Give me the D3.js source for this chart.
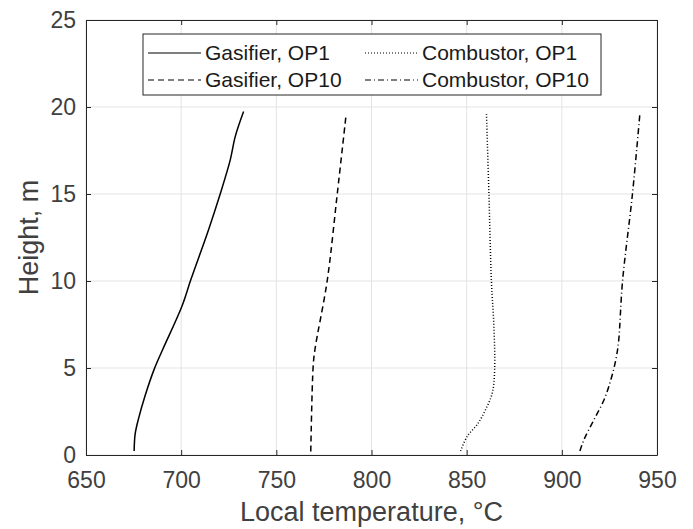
<!DOCTYPE html>
<html>
<head>
<meta charset="utf-8">
<script src="https://cdn.jsdelivr.net/npm/d3@7"></script>
<style>
  body { margin: 0; background: #fff; }
  svg { font-family: "Liberation Sans", Arial, sans-serif; }
</style>
</head>
<body>
<div id="chart"></div>
<script>
// temperature profiles along the riser height
const heightsG1 = [0.23, 1.19, 2.05, 3.39, 4.92, 6.06, 8.55, 10.08, 12.95, 15.0, 16.96, 18.3, 19.74];
const gasifierOP1 = [675.3, 675.8, 677.5, 681, 685.8, 690.3, 700.4, 705.1, 714.4, 720.5, 725.8, 728.4, 732.8];

const heightsG10 = [0.2, 5, 6, 10, 15, 19.6];
const gasifierOP10 = [768.1, 769.3, 770.2, 776.7, 782, 786.7];

const heightsC1 = [0.23, 1.09, 1.76, 2.62, 3.58, 4.92, 7.4, 10, 15, 19.6];
const combustorOP1 = [846.8, 850.4, 855.6, 860, 863.5, 864.7, 864.3, 863, 861.7, 860.4];

const heightsC10 = [0.23, 0.9, 2.05, 3.2, 4.34, 5.49, 6.5, 10, 15, 19.6];
const combustorOP10 = [909.5, 911.7, 917, 922.3, 925.8, 928.4, 929.8, 931.9, 937.1, 941];

const xTicks = [650, 700, 750, 800, 850, 900, 950];
const yTicks = [0, 5, 10, 15, 20, 25];

const series = [
    { name: "Gasifier, OP1", h: heightsG1, t: gasifierOP1, dash: null },
    { name: "Gasifier, OP10", h: heightsG10, t: gasifierOP10, dash: "6,4" },
    { name: "Combustor, OP1", h: heightsC1, t: combustorOP1, dash: "1,2" },
    { name: "Combustor, OP10", h: heightsC10, t: combustorOP10, dash: "6,3,1,3" }
];

const width = 693, height = 529;
const margin = { top: 20, right: 36, bottom: 74, left: 86 };
const innerW = width - margin.left - margin.right;
const innerH = height - margin.top - margin.bottom;

const svg = d3.select("#chart").append("svg")
    .attr("width", width)
    .attr("height", height);

const g = svg.append("g")
    .attr("transform", `translate(${margin.left},${margin.top})`);

const x = d3.scaleLinear().domain([650, 950]).range([0, innerW]);
const y = d3.scaleLinear().domain([0, 25]).range([innerH, 0]);

const axisColor = "#262626";
const textColor = "#404040";

// grid
g.append("g")
    .selectAll("line")
    .data(xTicks)
    .enter().append("line")
    .attr("x1", d => x(d)).attr("x2", d => x(d))
    .attr("y1", 0).attr("y2", innerH)
    .attr("stroke", "#e3e3e3").attr("stroke-width", 1);
g.append("g")
    .selectAll("line")
    .data(yTicks)
    .enter().append("line")
    .attr("x1", 0).attr("x2", innerW)
    .attr("y1", d => y(d)).attr("y2", d => y(d))
    .attr("stroke", "#e3e3e3").attr("stroke-width", 1);

// lines
const line = d3.line()
    .x(d => x(d[1]))
    .y(d => y(d[0]))
    .curve(d3.curveCatmullRom.alpha(0.5));

series.forEach(s => {
    g.append("path")
        .datum(s.h.map((h, i) => [h, s.t[i]]))
        .attr("fill", "none")
        .attr("stroke", "#000")
        .attr("stroke-width", 1.5)
        .attr("stroke-dasharray", s.dash)
        .attr("d", line);
});

// axes (ticks inside, box on)
function styleAxis(sel) {
    sel.select(".domain").attr("stroke", axisColor);
    sel.selectAll(".tick line").attr("stroke", axisColor);
    sel.selectAll(".tick text").attr("fill", textColor)
        .style("font-size", "23px");
}

const xAxis = g.append("g")
    .attr("transform", `translate(0,${innerH})`)
    .call(d3.axisBottom(x).tickValues(xTicks).tickSizeInner(-5).tickSizeOuter(0).tickPadding(17));
styleAxis(xAxis);

const yAxis = g.append("g")
    .call(d3.axisLeft(y).tickValues(yTicks).tickSizeInner(-5).tickSizeOuter(0).tickPadding(10));
styleAxis(yAxis);

const xTop = g.append("g")
    .call(d3.axisTop(x).tickValues(xTicks).tickSizeInner(-5).tickSizeOuter(0).tickFormat(""));
styleAxis(xTop);

const yRight = g.append("g")
    .attr("transform", `translate(${innerW},0)`)
    .call(d3.axisRight(y).tickValues(yTicks).tickSizeInner(-5).tickSizeOuter(0).tickFormat(""));
styleAxis(yRight);

// axis titles
svg.append("text")
    .attr("x", margin.left + innerW / 2)
    .attr("y", 521)
    .attr("text-anchor", "middle")
    .attr("fill", textColor)
    .style("font-size", "27px")
    .text("Local temperature, °C");

svg.append("text")
    .attr("transform", `translate(38,${margin.top + innerH / 2}) rotate(-90)`)
    .attr("text-anchor", "middle")
    .attr("fill", textColor)
    .style("font-size", "27px")
    .text("Height, m");

// legend
const legend = svg.append("g").attr("transform", "translate(143,34)");
legend.append("rect")
    .attr("width", 458).attr("height", 61)
    .attr("fill", "#fff")
    .attr("stroke", axisColor).attr("stroke-width", 1);

const legendPos = [[5, 19], [5, 46], [222, 19], [222, 46]];
series.forEach((s, i) => {
    const [lx, ly] = legendPos[i];
    legend.append("line")
        .attr("x1", lx).attr("x2", lx + 53)
        .attr("y1", ly).attr("y2", ly)
        .attr("stroke", "#000").attr("stroke-width", 1.2)
        .attr("stroke-dasharray", s.dash);
    legend.append("text")
        .attr("x", lx + 57).attr("y", ly + 7)
        .attr("fill", "#1a1a1a")
        .style("font-size", "21px")
        .text(s.name);
});
</script>
</body>
</html>
